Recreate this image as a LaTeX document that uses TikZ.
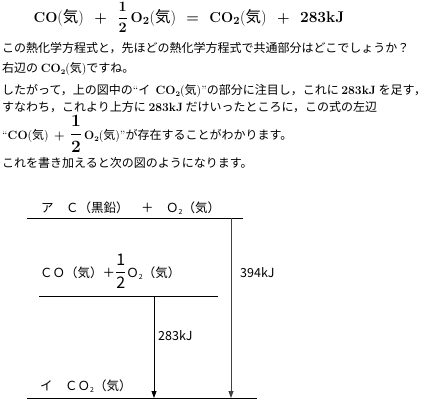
\documentclass[tikz,border=0pt]{standalone}
\usepackage{amsmath}
\usepackage{fontspec}
\newfontfamily\jp{Noto Sans CJK JP}
\usetikzlibrary{arrows.meta}
\newcommand{\lb}[1]{{\rmfamily\bfseries #1}}
\newcommand{\pk}[1]{{\rmfamily(}#1{\rmfamily)}}
\newcommand{\gsub}[1]{\raisebox{-0.4ex}{\scriptsize #1}}
\tikzset{
  level/.style={line width=0.8pt},
  gap/.style={line width=0.8pt,-{Triangle[width=5pt,length=7pt]}},
  txt/.style={anchor=base west,inner sep=0pt,font=\fontsize{12}{14}\jp},
  lbl/.style={anchor=base west,inner sep=0pt,font=\fontsize{12.5}{14}\jp},
}
\begin{document}
\begin{tikzpicture}[x=1pt,y=-1pt]
\useasboundingbox (0,0) rectangle (435,400);

\node[inner sep=0pt,font=\fontsize{15.5}{17}\jp\boldmath,anchor=base] (eq) at (189,22)
  {$\mathbf{CO}$\pk{気}\ \ \ $+$\ \ \ $\dfrac{1}{2}\,\mathbf{O_2}$\pk{気}\ \ \ $=$\ \ \ $\mathbf{CO_2}$\pk{気}\ \ \ $+$\ \ \ \lb{283kJ}};

\node[txt] (l1) at (2,52) {この熱化学方程式と，先ほどの熱化学方程式で共通部分はどこでしょうか？};
\node[txt] (l2) at (2,72) {右辺の \lb{CO\gsub{2}}\pk{気}ですね。};
\node[txt] (l3) at (2,94) {したがって，上の図中の{\rmfamily``}イ\ \ \lb{CO\gsub{2}}\pk{気}{\rmfamily''}の部分に注目し，これに \lb{283kJ} を足す，};
\node[txt] (l4) at (2,111) {すなわち，これより上方に \lb{283kJ} だけいったところに，この式の左辺};
\node[txt] (l5) at (2,139) {{\rmfamily``}\lb{CO}\pk{気}\ \ {\boldmath$+$}\ \ {\fontsize{16}{18}\selectfont\boldmath$\dfrac{1}{2}$}\,\lb{O\gsub{2}}\pk{気}{\rmfamily''}が存在することがわかります。};
\node[txt] (l6) at (2,167) {これを書き加えると次の図のようになります。};

%levels
\coordinate (a1) at (27,218);  \coordinate (a2) at (243,218);
\coordinate (m1) at (39,296);  \coordinate (m2) at (218,296);
\coordinate (b1) at (27,398);  \coordinate (b2) at (257,398);
\coordinate (a3) at (231,218); \coordinate (b3) at (231,398);
\coordinate (m3) at (154,296); \coordinate (b4) at (154,398);

\draw[level] (a1) -- (a2);
\draw[level] (m1) -- (m2);
\draw[level] (b1) -- (b2);
\draw[gap,black!75] (a3) -- (b3);
\draw[gap] (m3) -- (b4);

\node[lbl] (top) at (41,212) {ア\quad Ｃ（黒鉛）\quad ＋\quad Ｏ\gsub{2}（気）};
\node[lbl] (mid) at (40,277) {ＣＯ（気）＋{\fontsize{16}{18}\selectfont$\dfrac{\text{\jp 1}}{\text{\jp 2}}$}Ｏ\gsub{2}（気）};
\node[lbl] (bot) at (40,390) {イ\quad ＣＯ\gsub{2}（気）};
\node[lbl] (kja) at (240,277) {394kJ};
\node[lbl] (kjb) at (158,340) {283kJ};
\end{tikzpicture}
\end{document}
